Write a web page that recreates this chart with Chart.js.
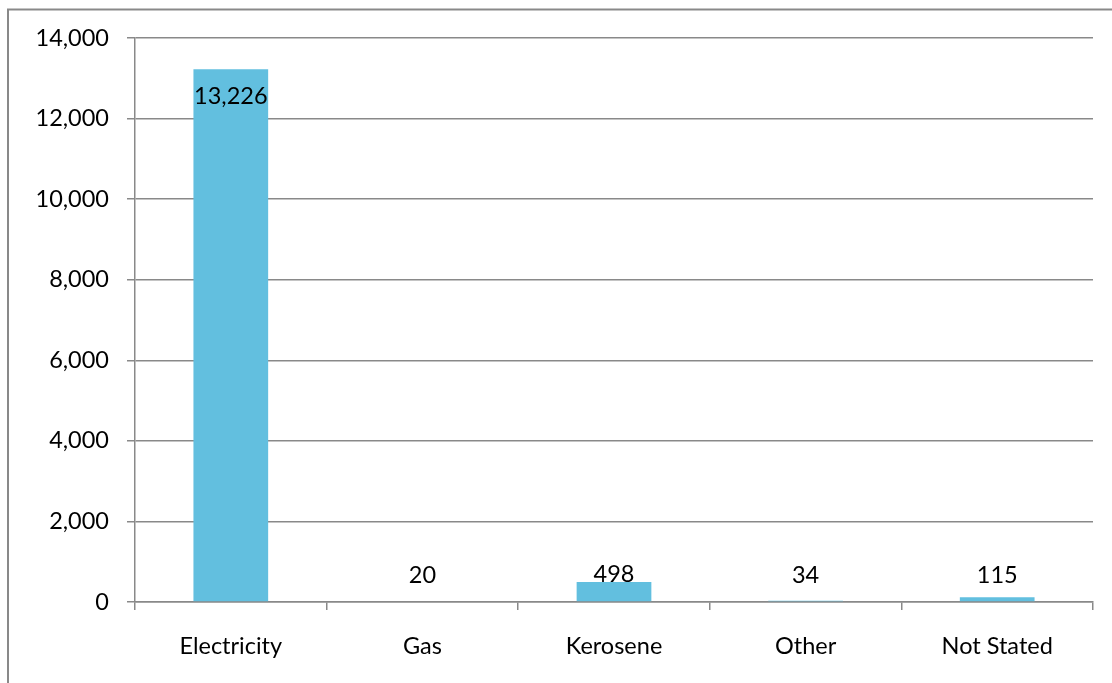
<!DOCTYPE html>
<html>
<head>
<meta charset="utf-8">
<script src="https://cdn.jsdelivr.net/npm/chart.js@4/dist/chart.umd.min.js"></script>
<style>
    html, body { margin: 0; padding: 0; background: #fff; }
    #wrap { width: 1112px; height: 683px; position: relative; }
</style>
</head>
<body>
<div id="wrap"><canvas id="fuelBar"></canvas></div>
<script>
    var categories = ['Electricity', 'Gas', 'Kerosene', 'Other', 'Not Stated'];
    var households = [13226, 20, 498, 34, 115];
    var yTicks = [0, 2000, 4000, 6000, 8000, 10000, 12000, 14000];

    var FONT = 'Lato, "Open Sans", sans-serif';
    var FSIZE = 23.5;
    var GREY = '#898989';

    // outer frame, cut off on the right and bottom like the source
    var framePlugin = {
        id: 'frame',
        beforeDraw: function (chart) {
            var ctx = chart.ctx;
            ctx.save();
            ctx.strokeStyle = GREY;
            ctx.lineWidth = 2;
            ctx.strokeRect(8, 9.5, 1300, 900);
            ctx.restore();
        }
    };

    var valueLabels = {
        id: 'valueLabels',
        afterDatasetsDraw: function (chart) {
            var ctx = chart.ctx;
            var meta = chart.getDatasetMeta(0);
            var zero = chart.scales.y.getPixelForValue(0);
            ctx.save();
            ctx.font = FSIZE + 'px ' + FONT;
            ctx.fillStyle = '#000';
            ctx.textAlign = 'center';
            meta.data.forEach(function (bar, i) {
                var txt = households[i].toLocaleString('en-US');
                if (households[i] > 10000) {
                    ctx.textBaseline = 'top';
                    ctx.fillText(txt, bar.x, bar.y + 15);
                } else {
                    ctx.textBaseline = 'alphabetic';
                    ctx.fillText(txt, bar.x, Math.min(bar.y, zero - 19));
                }
            });
            ctx.restore();
        }
    };

    var ctx = document.getElementById('fuelBar').getContext('2d');
    var fuelChart = new Chart(ctx, {
        type: 'bar',
        data: {
            labels: categories,
            datasets: [{
                data: households,
                backgroundColor: '#62bfdf',
                borderWidth: 0,
                categoryPercentage: 1,
                barPercentage: 0.39
            }]
        },
        options: {
            responsive: true,
            maintainAspectRatio: false,
            animation: false,
            layout: { padding: { left: 0, top: 38, right: 19, bottom: 0 } },
            plugins: {
                legend: { display: false },
                tooltip: { enabled: false }
            },
            scales: {
                x: {
                    grid: {
                        offset: true,
                        drawOnChartArea: false,
                        drawTicks: true,
                        tickLength: 8,
                        color: GREY,
                        lineWidth: 1.5
                    },
                    border: { color: GREY, width: 1.5 },
                    ticks: {
                        color: '#000',
                        font: { family: FONT, size: FSIZE },
                        padding: 22
                    },
                    afterFit: function (scale) { scale.height = 81; }
                },
                y: {
                    min: 0,
                    max: 14000,
                    afterBuildTicks: function (scale) {
                        scale.ticks = yTicks.map(function (v) { return { value: v }; });
                    },
                    grid: {
                        color: GREY,
                        lineWidth: 1.5,
                        tickLength: 8
                    },
                    border: { color: GREY, width: 1.5 },
                    ticks: {
                        color: '#000',
                        font: { family: FONT, size: FSIZE },
                        padding: 18,
                        callback: function (v) { return Number(v).toLocaleString('en-US'); }
                    },
                    afterFit: function (scale) { scale.width = 135; }
                }
            }
        },
        plugins: [framePlugin, valueLabels]
    });
</script>
</body>
</html>
